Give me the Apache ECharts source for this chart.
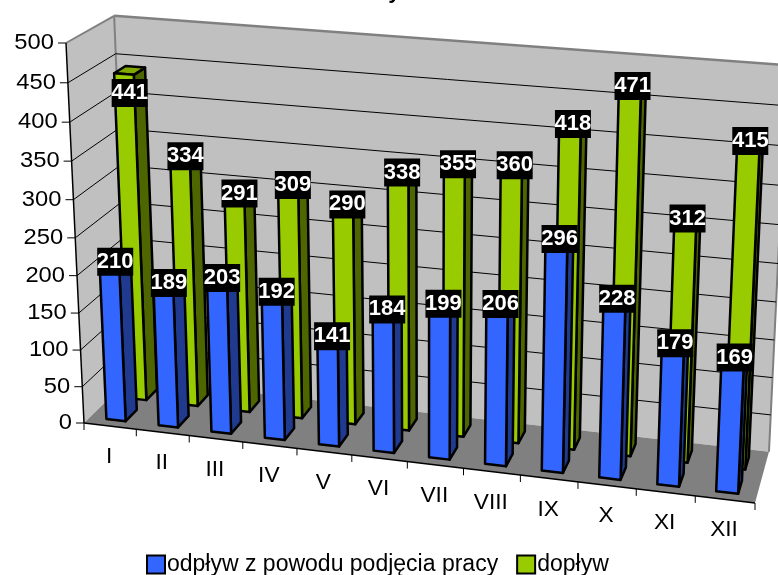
<!DOCTYPE html>
<html><head><meta charset="utf-8">
<style>html,body{margin:0;padding:0;background:#fff}#c{width:778px;height:575px}</style>
<script src="https://cdn.jsdelivr.net/npm/echarts@6/dist/echarts.min.js"></script>
</head><body><div id="c"></div>
<script>
const categories = ['I','II','III','IV','V','VI','VII','VIII','IX','X','XI','XII'];
const odplyw = [210,189,203,192,141,184,199,206,296,228,179,169];
const doplyw = [441,334,291,309,290,338,355,360,418,471,312,415];
const yTicks = [0,50,100,150,200,250,300,350,400,450,500];
const seriesNames = ['odpływ z powodu podjęcia pracy','dopływ'];
const titleText = 'bezrobotnych';

const W=778,H=575;
// 3D -> screen projective camera
const A0=[84,423],AU=[755,503],AD=[129,379],AV=[66,43],cu=-0.07,cd=0.05,cv=-0.05;
const a=[AU[0]*(1+cu)-A0[0],AD[0]*(1+cd)-A0[0],AV[0]*(1+cv)-A0[0]];
const b=[AU[1]*(1+cu)-A0[1],AD[1]*(1+cd)-A0[1],AV[1]*(1+cv)-A0[1]];
function project(u,d,v){const w=1+cu*u+cd*d+cv*v;
  return [(A0[0]+a[0]*u+a[1]*d+a[2]*v)/w,(A0[1]+b[0]*u+b[1]*d+b[2]*v)/w];}
function P(api,i,off,d,val){const c=api.coord([i,val]),bw=api.size([1,0])[0];
  return project((c[0]+off*bw)/W,d,1-c[1]/H);}
const FONT='"Liberation Sans",Arial,sans-serif';
const GRAY='#808080';
function poly(points,fill,stroke,lw){return {type:'polygon',shape:{points},style:{fill,stroke:stroke||'none',lineWidth:lw||0,lineJoin:'round'}};}
function line(p,q,stroke,lw){return {type:'line',shape:{x1:p[0],y1:p[1],x2:q[0],y2:q[1]},style:{stroke,lineWidth:lw,fill:'none'}};}
function text(x,y,s,font,fill,align,sx){return {type:'text',x,y,scaleX:sx,style:{text:s,font,fill,align,verticalAlign:'middle'}};}

function renderWalls(params,api){
  const L=0,R=categories.length-1,lo=0,hi=500;
  const f00=P(api,L,-.5,0,lo),f10=P(api,R,.5,0,lo),b00=P(api,L,-.5,1,lo),b10=P(api,R,.5,1,lo),
        f01=P(api,L,-.5,0,hi),b01=P(api,L,-.5,1,hi),b11=P(api,R,.5,1,hi);
  return {type:'group',children:[
    poly([b00,b10,b11,b01],'#C0C0C0'),
    poly([f00,b00,b01,f01],'#C0C0C0'),
    poly([f00,f10,b10,b00],'#808080'),
    line(f01,b01,GRAY,2),line(b01,b11,GRAY,2.5),line(b01,b00,GRAY,2),line(b10,b11,GRAY,2)
  ]};
}
function renderGrid(params,api){
  const v=api.value(1),L=0,R=categories.length-1;
  const f=P(api,L,-.5,0,v),bk=P(api,L,-.5,1,v),br=P(api,R,.5,1,v);
  const ch=[];
  if(v>0&&v<500){ch.push(line(f,bk,'#000',1),line(bk,br,'#000',1));}
  ch.push(line([f[0]-8,f[1]],f,'#000',1));
  ch.push(text(f[0]-12,f[1],String(v),'22px '+FONT,'#000','right',1.08));
  return {type:'group',children:ch};
}
function renderCat(params,api){
  const i=api.value(0);
  const p=P(api,i,-.5,0,0),c=P(api,i,0,0,0),ch=[line(p,[p[0],p[1]+7],'#000',1)];
  if(i===categories.length-1){const e=P(api,i,.5,0,0);ch.push(line(e,[e[0],e[1]+7],'#000',1));
    ch.push(line(P(api,0,-.5,0,0),e,'#000',1.5),line(P(api,0,-.5,0,0),P(api,0,-.5,0,500),'#000',1.5));}
  ch.push(text(c[0]-1,c[1]+31,categories[i],'22px '+FONT,'#000','center',1.03));
  return {type:'group',children:ch};
}
function barRenderer(d0,d1,front,side,top){
  const hw=0.185;
  return function(params,api){
    const i=api.value(0),v=api.value(1);
    const p=(o,d,val)=>P(api,i,o,d,val);
    const fl0=p(-hw,d0,0),fr0=p(hw,d0,0),br0=p(hw,d1,0);
    const fl1=p(-hw,d0,v),fr1=p(hw,d0,v),br1=p(hw,d1,v),bl1=p(-hw,d1,v);
    return {type:'group',children:[
      poly([fr0,br0,br1,fr1],side,'#000',2.5),
      poly([fl1,fr1,br1,bl1],top,'#000',2.5),
      poly([fl0,fr0,fr1,fl1],front,'#000',2.5)
    ]};
  };
}
const D_BLUE=[0.13,0.38],D_GREEN=[0.6,0.85];
function labelRenderer(dr,drop){
  return function(params,api){
    const i=api.value(0),v=api.value(1);
    const t=P(api,i,0,(dr[0]+dr[1])/2,v),f=P(api,i,0,dr[0],v);
    const x=t[0],y=f[1]-4+(drop[i]||0);
    return {type:'group',children:[
      {type:'rect',shape:{x:x-18,y:y-14,width:36,height:28},style:{fill:'#000'}},
      text(x,y,String(v),'bold 22px '+FONT,'#fff','center',1.0)
    ]};
  };
}
const toData=a=>a.map((v,i)=>[i,v]);
const chart=echarts.init(document.getElementById('c'),null,{renderer:'canvas'});
const base={type:'custom',coordinateSystem:'cartesian2d',silent:true,clip:false,animation:false,encode:{x:0,y:1}};
chart.setOption({
  animation:false,backgroundColor:'#fff',
  title:{text:titleText,left:277,top:-24,textStyle:{fontFamily:FONT,fontSize:22,fontWeight:'bold',color:'#000'}},
  grid:{left:0,right:0,top:0,bottom:0},
  xAxis:{type:'category',data:categories,show:false},
  yAxis:{type:'value',min:0,max:500,interval:50,show:false},
  legend:{left:141,top:548,itemWidth:18,itemHeight:18,itemGap:18,icon:'rect',
    data:seriesNames,textStyle:{fontFamily:FONT,fontSize:23,color:'#000',padding:[0,0,0,-3]},
    itemStyle:{borderColor:'#000',borderWidth:2}},
  series:[
    {...base,z:1,data:[[0,0]],renderItem:renderWalls},
    {...base,z:2,data:yTicks.map(v=>[0,v]),renderItem:renderGrid},
    {...base,z:2,data:categories.map((c,i)=>[i,0]),renderItem:renderCat},
    {...base,z:3,name:seriesNames[1],data:toData(doplyw),itemStyle:{color:'#99CC00'},renderItem:barRenderer(D_GREEN[0],D_GREEN[1],'#99CC00','#4D6600','#7FA800')},
    {...base,z:4,name:seriesNames[0],data:toData(odplyw),itemStyle:{color:'#3366FF'},renderItem:barRenderer(D_BLUE[0],D_BLUE[1],'#3366FF','#1F3A8F','#2A52CC')},
    {...base,z:5,data:toData(doplyw),renderItem:labelRenderer(D_GREEN,{0:23})},
    {...base,z:6,data:toData(odplyw),renderItem:labelRenderer(D_BLUE,{})}
  ]
});
</script></body></html>
